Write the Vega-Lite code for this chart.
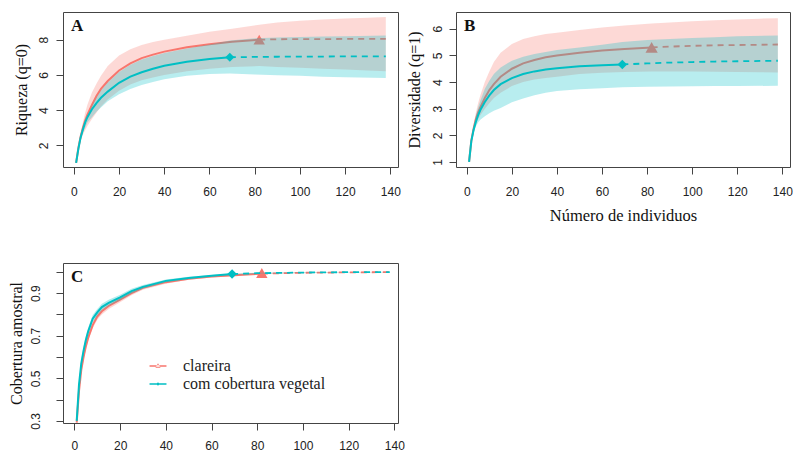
{
  "$schema": "https://vega.github.io/schema/vega-lite/v6.json",
  "padding": {"left": 7, "top": 11, "right": 0, "bottom": 0},
  "background": "white",
  "datasets": {
    "curves": [
      {"p":"A","g":"clareira","m":"rar","x":1,"y":1,"lo":1,"hi":1},
      {"p":"A","g":"clareira","m":"rar","x":2,"y":1.85,"lo":1.8,"hi":1.9},
      {"p":"A","g":"clareira","m":"rar","x":3,"y":2.5,"lo":2.25,"hi":2.65},
      {"p":"A","g":"clareira","m":"rar","x":4,"y":3.0,"lo":2.6,"hi":3.3},
      {"p":"A","g":"clareira","m":"rar","x":5,"y":3.4,"lo":2.85,"hi":3.85},
      {"p":"A","g":"clareira","m":"rar","x":6,"y":3.75,"lo":3.1,"hi":4.3},
      {"p":"A","g":"clareira","m":"rar","x":8,"y":4.3,"lo":3.5,"hi":5.0},
      {"p":"A","g":"clareira","m":"rar","x":10,"y":4.8,"lo":3.85,"hi":5.5},
      {"p":"A","g":"clareira","m":"rar","x":12,"y":5.2,"lo":4.2,"hi":5.95},
      {"p":"A","g":"clareira","m":"rar","x":15,"y":5.65,"lo":4.6,"hi":6.5},
      {"p":"A","g":"clareira","m":"rar","x":20,"y":6.25,"lo":5.1,"hi":7.1},
      {"p":"A","g":"clareira","m":"rar","x":25,"y":6.65,"lo":5.45,"hi":7.45},
      {"p":"A","g":"clareira","m":"rar","x":30,"y":6.95,"lo":5.7,"hi":7.7},
      {"p":"A","g":"clareira","m":"rar","x":35,"y":7.15,"lo":5.85,"hi":7.87},
      {"p":"A","g":"clareira","m":"rar","x":40,"y":7.32,"lo":6.0,"hi":8.0},
      {"p":"A","g":"clareira","m":"rar","x":50,"y":7.57,"lo":6.2,"hi":8.22},
      {"p":"A","g":"clareira","m":"rar","x":60,"y":7.74,"lo":6.35,"hi":8.45},
      {"p":"A","g":"clareira","m":"rar","x":70,"y":7.88,"lo":6.45,"hi":8.62},
      {"p":"A","g":"clareira","m":"rar","x":82,"y":8.0,"lo":6.5,"hi":8.85},
      {"p":"A","g":"clareira","m":"ext","x":82,"y":8.0,"lo":6.5,"hi":8.85},
      {"p":"A","g":"clareira","m":"ext","x":90,"y":8.02,"lo":6.45,"hi":8.97},
      {"p":"A","g":"clareira","m":"ext","x":100,"y":8.03,"lo":6.4,"hi":9.07},
      {"p":"A","g":"clareira","m":"ext","x":110,"y":8.03,"lo":6.35,"hi":9.15},
      {"p":"A","g":"clareira","m":"ext","x":120,"y":8.04,"lo":6.3,"hi":9.2},
      {"p":"A","g":"clareira","m":"ext","x":130,"y":8.04,"lo":6.25,"hi":9.25},
      {"p":"A","g":"clareira","m":"ext","x":138,"y":8.04,"lo":6.2,"hi":9.28},
      {"p":"A","g":"com cobertura vegetal","m":"rar","x":1,"y":1,"lo":1,"hi":1},
      {"p":"A","g":"com cobertura vegetal","m":"rar","x":2,"y":1.8,"lo":1.75,"hi":1.83},
      {"p":"A","g":"com cobertura vegetal","m":"rar","x":3,"y":2.45,"lo":2.3,"hi":2.48},
      {"p":"A","g":"com cobertura vegetal","m":"rar","x":4,"y":2.9,"lo":2.7,"hi":2.97},
      {"p":"A","g":"com cobertura vegetal","m":"rar","x":5,"y":3.3,"lo":3.0,"hi":3.36},
      {"p":"A","g":"com cobertura vegetal","m":"rar","x":6,"y":3.6,"lo":3.3,"hi":3.7},
      {"p":"A","g":"com cobertura vegetal","m":"rar","x":8,"y":4.05,"lo":3.6,"hi":4.25},
      {"p":"A","g":"com cobertura vegetal","m":"rar","x":10,"y":4.4,"lo":3.9,"hi":4.72},
      {"p":"A","g":"com cobertura vegetal","m":"rar","x":12,"y":4.7,"lo":4.15,"hi":5.12},
      {"p":"A","g":"com cobertura vegetal","m":"rar","x":15,"y":5.05,"lo":4.5,"hi":5.57},
      {"p":"A","g":"com cobertura vegetal","m":"rar","x":20,"y":5.55,"lo":4.9,"hi":6.17},
      {"p":"A","g":"com cobertura vegetal","m":"rar","x":25,"y":5.9,"lo":5.2,"hi":6.57},
      {"p":"A","g":"com cobertura vegetal","m":"rar","x":30,"y":6.15,"lo":5.42,"hi":6.87},
      {"p":"A","g":"com cobertura vegetal","m":"rar","x":35,"y":6.35,"lo":5.6,"hi":7.07},
      {"p":"A","g":"com cobertura vegetal","m":"rar","x":40,"y":6.52,"lo":5.75,"hi":7.24},
      {"p":"A","g":"com cobertura vegetal","m":"rar","x":50,"y":6.75,"lo":5.95,"hi":7.5},
      {"p":"A","g":"com cobertura vegetal","m":"rar","x":60,"y":6.9,"lo":6.05,"hi":7.72},
      {"p":"A","g":"com cobertura vegetal","m":"rar","x":69,"y":7.0,"lo":6.08,"hi":7.95},
      {"p":"A","g":"com cobertura vegetal","m":"ext","x":69,"y":7.0,"lo":6.08,"hi":7.95},
      {"p":"A","g":"com cobertura vegetal","m":"ext","x":80,"y":7.02,"lo":6.02,"hi":8.08},
      {"p":"A","g":"com cobertura vegetal","m":"ext","x":90,"y":7.03,"lo":5.98,"hi":8.12},
      {"p":"A","g":"com cobertura vegetal","m":"ext","x":100,"y":7.04,"lo":5.95,"hi":8.15},
      {"p":"A","g":"com cobertura vegetal","m":"ext","x":110,"y":7.04,"lo":5.9,"hi":8.18},
      {"p":"A","g":"com cobertura vegetal","m":"ext","x":120,"y":7.05,"lo":5.87,"hi":8.2},
      {"p":"A","g":"com cobertura vegetal","m":"ext","x":138,"y":7.05,"lo":5.82,"hi":8.23},
      {"p":"B","g":"clareira","m":"rar","x":1,"y":1,"lo":1,"hi":1},
      {"p":"B","g":"clareira","m":"rar","x":2,"y":1.8,"lo":1.75,"hi":1.85},
      {"p":"B","g":"clareira","m":"rar","x":3,"y":2.25,"lo":2.1,"hi":2.4},
      {"p":"B","g":"clareira","m":"rar","x":4,"y":2.6,"lo":2.4,"hi":2.85},
      {"p":"B","g":"clareira","m":"rar","x":5,"y":2.85,"lo":2.6,"hi":3.2},
      {"p":"B","g":"clareira","m":"rar","x":6,"y":3.05,"lo":2.75,"hi":3.5},
      {"p":"B","g":"clareira","m":"rar","x":8,"y":3.4,"lo":3.0,"hi":4.0},
      {"p":"B","g":"clareira","m":"rar","x":10,"y":3.7,"lo":3.2,"hi":4.4},
      {"p":"B","g":"clareira","m":"rar","x":12,"y":3.92,"lo":3.4,"hi":4.75},
      {"p":"B","g":"clareira","m":"rar","x":15,"y":4.2,"lo":3.6,"hi":5.1},
      {"p":"B","g":"clareira","m":"rar","x":20,"y":4.5,"lo":3.85,"hi":5.43},
      {"p":"B","g":"clareira","m":"rar","x":25,"y":4.7,"lo":4.0,"hi":5.62},
      {"p":"B","g":"clareira","m":"rar","x":30,"y":4.83,"lo":4.1,"hi":5.72},
      {"p":"B","g":"clareira","m":"rar","x":35,"y":4.93,"lo":4.15,"hi":5.8},
      {"p":"B","g":"clareira","m":"rar","x":40,"y":5.0,"lo":4.2,"hi":5.85},
      {"p":"B","g":"clareira","m":"rar","x":50,"y":5.1,"lo":4.3,"hi":5.95},
      {"p":"B","g":"clareira","m":"rar","x":60,"y":5.18,"lo":4.35,"hi":6.05},
      {"p":"B","g":"clareira","m":"rar","x":70,"y":5.24,"lo":4.38,"hi":6.12},
      {"p":"B","g":"clareira","m":"rar","x":82,"y":5.3,"lo":4.4,"hi":6.2},
      {"p":"B","g":"clareira","m":"ext","x":82,"y":5.3,"lo":4.4,"hi":6.2},
      {"p":"B","g":"clareira","m":"ext","x":90,"y":5.33,"lo":4.4,"hi":6.24},
      {"p":"B","g":"clareira","m":"ext","x":100,"y":5.36,"lo":4.4,"hi":6.28},
      {"p":"B","g":"clareira","m":"ext","x":110,"y":5.38,"lo":4.39,"hi":6.32},
      {"p":"B","g":"clareira","m":"ext","x":120,"y":5.39,"lo":4.38,"hi":6.35},
      {"p":"B","g":"clareira","m":"ext","x":130,"y":5.4,"lo":4.37,"hi":6.38},
      {"p":"B","g":"clareira","m":"ext","x":138,"y":5.41,"lo":4.36,"hi":6.4},
      {"p":"B","g":"com cobertura vegetal","m":"rar","x":1,"y":1,"lo":1,"hi":1},
      {"p":"B","g":"com cobertura vegetal","m":"rar","x":2,"y":1.78,"lo":1.72,"hi":1.85},
      {"p":"B","g":"com cobertura vegetal","m":"rar","x":3,"y":2.2,"lo":2.08,"hi":2.35},
      {"p":"B","g":"com cobertura vegetal","m":"rar","x":4,"y":2.5,"lo":2.33,"hi":2.75},
      {"p":"B","g":"com cobertura vegetal","m":"rar","x":5,"y":2.75,"lo":2.48,"hi":3.05},
      {"p":"B","g":"com cobertura vegetal","m":"rar","x":6,"y":2.95,"lo":2.58,"hi":3.3},
      {"p":"B","g":"com cobertura vegetal","m":"rar","x":8,"y":3.25,"lo":2.72,"hi":3.75},
      {"p":"B","g":"com cobertura vegetal","m":"rar","x":10,"y":3.5,"lo":2.83,"hi":4.05},
      {"p":"B","g":"com cobertura vegetal","m":"rar","x":12,"y":3.7,"lo":2.92,"hi":4.3},
      {"p":"B","g":"com cobertura vegetal","m":"rar","x":15,"y":3.92,"lo":3.03,"hi":4.55},
      {"p":"B","g":"com cobertura vegetal","m":"rar","x":20,"y":4.15,"lo":3.24,"hi":4.8},
      {"p":"B","g":"com cobertura vegetal","m":"rar","x":25,"y":4.3,"lo":3.38,"hi":4.95},
      {"p":"B","g":"com cobertura vegetal","m":"rar","x":30,"y":4.4,"lo":3.5,"hi":5.05},
      {"p":"B","g":"com cobertura vegetal","m":"rar","x":35,"y":4.47,"lo":3.6,"hi":5.13},
      {"p":"B","g":"com cobertura vegetal","m":"rar","x":40,"y":4.52,"lo":3.66,"hi":5.2},
      {"p":"B","g":"com cobertura vegetal","m":"rar","x":50,"y":4.59,"lo":3.73,"hi":5.3},
      {"p":"B","g":"com cobertura vegetal","m":"rar","x":60,"y":4.63,"lo":3.77,"hi":5.4},
      {"p":"B","g":"com cobertura vegetal","m":"rar","x":69,"y":4.66,"lo":3.8,"hi":5.5},
      {"p":"B","g":"com cobertura vegetal","m":"ext","x":69,"y":4.66,"lo":3.8,"hi":5.5},
      {"p":"B","g":"com cobertura vegetal","m":"ext","x":80,"y":4.7,"lo":3.82,"hi":5.58},
      {"p":"B","g":"com cobertura vegetal","m":"ext","x":90,"y":4.73,"lo":3.83,"hi":5.62},
      {"p":"B","g":"com cobertura vegetal","m":"ext","x":100,"y":4.75,"lo":3.84,"hi":5.65},
      {"p":"B","g":"com cobertura vegetal","m":"ext","x":110,"y":4.77,"lo":3.85,"hi":5.68},
      {"p":"B","g":"com cobertura vegetal","m":"ext","x":120,"y":4.78,"lo":3.85,"hi":5.72},
      {"p":"B","g":"com cobertura vegetal","m":"ext","x":138,"y":4.8,"lo":3.86,"hi":5.75},
      {"p":"C","g":"clareira","m":"rar","x":1,"y":0.292,"lo":0.287,"hi":0.297},
      {"p":"C","g":"clareira","m":"rar","x":2,"y":0.44,"lo":0.425,"hi":0.455},
      {"p":"C","g":"clareira","m":"rar","x":3,"y":0.54,"lo":0.525,"hi":0.555},
      {"p":"C","g":"clareira","m":"rar","x":4,"y":0.6,"lo":0.585,"hi":0.615},
      {"p":"C","g":"clareira","m":"rar","x":5,"y":0.65,"lo":0.635,"hi":0.665},
      {"p":"C","g":"clareira","m":"rar","x":6,"y":0.69,"lo":0.675,"hi":0.705},
      {"p":"C","g":"clareira","m":"rar","x":8,"y":0.75,"lo":0.735,"hi":0.765},
      {"p":"C","g":"clareira","m":"rar","x":10,"y":0.79,"lo":0.775,"hi":0.805},
      {"p":"C","g":"clareira","m":"rar","x":12,"y":0.815,"lo":0.8,"hi":0.83},
      {"p":"C","g":"clareira","m":"rar","x":15,"y":0.84,"lo":0.826,"hi":0.854},
      {"p":"C","g":"clareira","m":"rar","x":20,"y":0.87,"lo":0.858,"hi":0.882},
      {"p":"C","g":"clareira","m":"rar","x":25,"y":0.9,"lo":0.89,"hi":0.91},
      {"p":"C","g":"clareira","m":"rar","x":30,"y":0.925,"lo":0.916,"hi":0.934},
      {"p":"C","g":"clareira","m":"rar","x":40,"y":0.952,"lo":0.945,"hi":0.959},
      {"p":"C","g":"clareira","m":"rar","x":50,"y":0.968,"lo":0.963,"hi":0.973},
      {"p":"C","g":"clareira","m":"rar","x":60,"y":0.978,"lo":0.974,"hi":0.982},
      {"p":"C","g":"clareira","m":"rar","x":70,"y":0.985,"lo":0.982,"hi":0.988},
      {"p":"C","g":"clareira","m":"rar","x":82,"y":0.992,"lo":0.989,"hi":0.995},
      {"p":"C","g":"clareira","m":"ext","x":82,"y":0.992,"lo":0.989,"hi":0.995},
      {"p":"C","g":"clareira","m":"ext","x":100,"y":0.996,"lo":0.994,"hi":0.998},
      {"p":"C","g":"clareira","m":"ext","x":120,"y":0.998,"lo":0.997,"hi":0.999},
      {"p":"C","g":"clareira","m":"ext","x":138,"y":0.999,"lo":0.998,"hi":1.0},
      {"p":"C","g":"com cobertura vegetal","m":"rar","x":1,"y":0.3,"lo":0.295,"hi":0.305},
      {"p":"C","g":"com cobertura vegetal","m":"rar","x":2,"y":0.47,"lo":0.452,"hi":0.488},
      {"p":"C","g":"com cobertura vegetal","m":"rar","x":3,"y":0.57,"lo":0.552,"hi":0.588},
      {"p":"C","g":"com cobertura vegetal","m":"rar","x":4,"y":0.63,"lo":0.612,"hi":0.648},
      {"p":"C","g":"com cobertura vegetal","m":"rar","x":5,"y":0.68,"lo":0.662,"hi":0.698},
      {"p":"C","g":"com cobertura vegetal","m":"rar","x":6,"y":0.72,"lo":0.702,"hi":0.738},
      {"p":"C","g":"com cobertura vegetal","m":"rar","x":8,"y":0.78,"lo":0.762,"hi":0.798},
      {"p":"C","g":"com cobertura vegetal","m":"rar","x":10,"y":0.81,"lo":0.794,"hi":0.826},
      {"p":"C","g":"com cobertura vegetal","m":"rar","x":12,"y":0.835,"lo":0.82,"hi":0.85},
      {"p":"C","g":"com cobertura vegetal","m":"rar","x":15,"y":0.855,"lo":0.841,"hi":0.869},
      {"p":"C","g":"com cobertura vegetal","m":"rar","x":20,"y":0.88,"lo":0.867,"hi":0.893},
      {"p":"C","g":"com cobertura vegetal","m":"rar","x":25,"y":0.91,"lo":0.899,"hi":0.921},
      {"p":"C","g":"com cobertura vegetal","m":"rar","x":30,"y":0.93,"lo":0.921,"hi":0.939},
      {"p":"C","g":"com cobertura vegetal","m":"rar","x":40,"y":0.958,"lo":0.951,"hi":0.965},
      {"p":"C","g":"com cobertura vegetal","m":"rar","x":50,"y":0.972,"lo":0.967,"hi":0.977},
      {"p":"C","g":"com cobertura vegetal","m":"rar","x":60,"y":0.982,"lo":0.978,"hi":0.986},
      {"p":"C","g":"com cobertura vegetal","m":"rar","x":69,"y":0.99,"lo":0.987,"hi":0.993},
      {"p":"C","g":"com cobertura vegetal","m":"ext","x":69,"y":0.99,"lo":0.987,"hi":0.993},
      {"p":"C","g":"com cobertura vegetal","m":"ext","x":80,"y":0.994,"lo":0.992,"hi":0.996},
      {"p":"C","g":"com cobertura vegetal","m":"ext","x":100,"y":0.997,"lo":0.996,"hi":0.998},
      {"p":"C","g":"com cobertura vegetal","m":"ext","x":120,"y":0.999,"lo":0.998,"hi":1.0},
      {"p":"C","g":"com cobertura vegetal","m":"ext","x":138,"y":0.999,"lo":0.998,"hi":1.0}
    ],
    "obs": [
      {"p":"A","g":"clareira","x":82,"y":8.0},
      {"p":"A","g":"com cobertura vegetal","x":69,"y":7.0},
      {"p":"B","g":"clareira","x":82,"y":5.3},
      {"p":"B","g":"com cobertura vegetal","x":69,"y":4.66},
      {"p":"C","g":"clareira","x":82,"y":0.995},
      {"p":"C","g":"com cobertura vegetal","x":69,"y":0.99}
    ]
  },
  "concat": [
    {
      "width": 335, "height": 155,
      "title": {"text": "A"},
      "encoding": {
        "x": {"field": "x", "type": "quantitative", "scale": {"domain": [-4.8, 143.4], "nice": false, "zero": false},
              "axis": {"values": [0,20,40,60,80,100,120,140], "title": null, "labelPadding": 12}},
        "y": {"field": "y", "type": "quantitative", "scale": {"domain": [0.77, 9.57], "nice": false, "zero": false},
              "axis": {"values": [2,4,6,8], "title": "Riqueza (q=0)", "labelAngle": -90, "labelAlign": "center", "labelBaseline": "alphabetic", "labelPadding": 9, "titlePadding": 8}}
      },
      "layer": [
        {"data": {"name": "curves"}, "transform": [{"filter": "datum.p=='A' && datum.g=='clareira'"}],
         "mark": {"type": "area", "color": "#F8766D", "opacity": 0.28, "clip": true},
         "encoding": {"y": {"field": "lo", "type": "quantitative", "scale": {"domain": [0.77, 9.57], "nice": false, "zero": false},
              "axis": {"values": [2,4,6,8], "title": "Riqueza (q=0)", "labelAngle": -90, "labelAlign": "center", "labelBaseline": "alphabetic", "labelPadding": 9, "titlePadding": 8}}, "y2": {"field": "hi"}}},
        {"data": {"name": "curves"}, "transform": [{"filter": "datum.p=='A' && datum.g=='clareira' && datum.m=='rar'"}],
         "mark": {"type": "line", "color": "#F8766D", "strokeWidth": 2, "clip": true}},
        {"data": {"name": "curves"}, "transform": [{"filter": "datum.p=='A' && datum.g=='clareira' && datum.m=='ext'"}],
         "mark": {"type": "line", "color": "#F8766D", "strokeWidth": 1.8, "strokeDash": [6, 5], "clip": true}},
        {"data": {"name": "obs"}, "transform": [{"filter": "datum.p=='A' && datum.g=='clareira'"}],
         "mark": {"type": "point", "shape": "triangle-up", "filled": true, "size": 130, "color": "#F8766D", "opacity": 1}},
        {"data": {"name": "curves"}, "transform": [{"filter": "datum.p=='A' && datum.g=='com cobertura vegetal'"}],
         "mark": {"type": "area", "color": "#00BFC4", "opacity": 0.28, "clip": true},
         "encoding": {"y": {"field": "lo", "type": "quantitative", "scale": {"domain": [0.77, 9.57], "nice": false, "zero": false},
              "axis": {"values": [2,4,6,8], "title": "Riqueza (q=0)", "labelAngle": -90, "labelAlign": "center", "labelBaseline": "alphabetic", "labelPadding": 9, "titlePadding": 8}}, "y2": {"field": "hi"}}},
        {"data": {"name": "curves"}, "transform": [{"filter": "datum.p=='A' && datum.g=='com cobertura vegetal' && datum.m=='rar'"}],
         "mark": {"type": "line", "color": "#00BFC4", "strokeWidth": 2, "clip": true}},
        {"data": {"name": "curves"}, "transform": [{"filter": "datum.p=='A' && datum.g=='com cobertura vegetal' && datum.m=='ext'"}],
         "mark": {"type": "line", "color": "#00BFC4", "strokeWidth": 1.8, "strokeDash": [6, 5], "clip": true}},
        {"data": {"name": "obs"}, "transform": [{"filter": "datum.p=='A' && datum.g=='com cobertura vegetal'"}],
         "mark": {"type": "point", "shape": "diamond", "filled": true, "size": 80, "color": "#00BFC4", "opacity": 1}}
      ]
    },
    {
      "width": 334, "height": 155,
      "title": {"text": "B"},
      "encoding": {
        "x": {"field": "x", "type": "quantitative", "scale": {"domain": [-4.8, 143.4], "nice": false, "zero": false},
              "axis": {"values": [0,20,40,60,80,100,120,140], "title": "Número de individuos", "labelPadding": 12, "titlePadding": 10, "titleFontSize": 16.5}},
        "y": {"field": "y", "type": "quantitative", "scale": {"domain": [0.81, 6.63], "nice": false, "zero": false},
              "axis": {"values": [1,2,3,4,5,6], "title": "Diversidade (q=1)", "labelAngle": -90, "labelAlign": "center", "labelBaseline": "alphabetic", "labelPadding": 8, "titlePadding": 9}}
      },
      "layer": [
        {"data": {"name": "curves"}, "transform": [{"filter": "datum.p=='B' && datum.g=='clareira'"}],
         "mark": {"type": "area", "color": "#F8766D", "opacity": 0.28, "clip": true},
         "encoding": {"y": {"field": "lo", "type": "quantitative", "scale": {"domain": [0.81, 6.63], "nice": false, "zero": false},
              "axis": {"values": [1,2,3,4,5,6], "title": "Diversidade (q=1)", "labelAngle": -90, "labelAlign": "center", "labelBaseline": "alphabetic", "labelPadding": 8, "titlePadding": 9}}, "y2": {"field": "hi"}}},
        {"data": {"name": "curves"}, "transform": [{"filter": "datum.p=='B' && datum.g=='clareira' && datum.m=='rar'"}],
         "mark": {"type": "line", "color": "#F8766D", "strokeWidth": 2, "clip": true}},
        {"data": {"name": "curves"}, "transform": [{"filter": "datum.p=='B' && datum.g=='clareira' && datum.m=='ext'"}],
         "mark": {"type": "line", "color": "#F8766D", "strokeWidth": 1.8, "strokeDash": [6, 5], "clip": true}},
        {"data": {"name": "obs"}, "transform": [{"filter": "datum.p=='B' && datum.g=='clareira'"}],
         "mark": {"type": "point", "shape": "triangle-up", "filled": true, "size": 150, "color": "#F8766D", "opacity": 1}},
        {"data": {"name": "curves"}, "transform": [{"filter": "datum.p=='B' && datum.g=='com cobertura vegetal'"}],
         "mark": {"type": "area", "color": "#00BFC4", "opacity": 0.28, "clip": true},
         "encoding": {"y": {"field": "lo", "type": "quantitative", "scale": {"domain": [0.81, 6.63], "nice": false, "zero": false},
              "axis": {"values": [1,2,3,4,5,6], "title": "Diversidade (q=1)", "labelAngle": -90, "labelAlign": "center", "labelBaseline": "alphabetic", "labelPadding": 8, "titlePadding": 9}}, "y2": {"field": "hi"}}},
        {"data": {"name": "curves"}, "transform": [{"filter": "datum.p=='B' && datum.g=='com cobertura vegetal' && datum.m=='rar'"}],
         "mark": {"type": "line", "color": "#00BFC4", "strokeWidth": 2, "clip": true}},
        {"data": {"name": "curves"}, "transform": [{"filter": "datum.p=='B' && datum.g=='com cobertura vegetal' && datum.m=='ext'"}],
         "mark": {"type": "line", "color": "#00BFC4", "strokeWidth": 1.8, "strokeDash": [6, 5], "clip": true}},
        {"data": {"name": "obs"}, "transform": [{"filter": "datum.p=='B' && datum.g=='com cobertura vegetal'"}],
         "mark": {"type": "point", "shape": "diamond", "filled": true, "size": 90, "color": "#00BFC4", "opacity": 1}}
      ]
    },
    {
      "width": 335, "height": 160,
      "title": {"text": "C"},
      "encoding": {
        "x": {"field": "x", "type": "quantitative", "scale": {"domain": [-5, 141.6], "nice": false, "zero": false},
              "axis": {"values": [0,20,40,60,80,100,120,140], "title": null, "labelPadding": 10}},
        "y": {"field": "y", "type": "quantitative", "scale": {"domain": [0.29, 1.042], "nice": false, "zero": false},
              "axis": {"values": [0.3,0.4,0.5,0.6,0.7,0.8,0.9,1.0], "format": ".1f", "labelExpr": "round(datum.value*10) % 2 == 1 ? datum.label : ''", "title": "Cobertura amostral", "labelAngle": -90, "labelAlign": "center", "labelBaseline": "alphabetic", "labelPadding": 17, "titlePadding": 5}}
      },
      "layer": [
        {"data": {"name": "curves"}, "transform": [{"filter": "datum.p=='C' && datum.g=='clareira'"}],
         "mark": {"type": "area", "color": "#F8766D", "opacity": 0.3, "clip": true},
         "encoding": {"y": {"field": "lo", "type": "quantitative", "scale": {"domain": [0.29, 1.042], "nice": false, "zero": false},
              "axis": {"values": [0.3,0.4,0.5,0.6,0.7,0.8,0.9,1.0], "format": ".1f", "labelExpr": "round(datum.value*10) % 2 == 1 ? datum.label : ''", "title": "Cobertura amostral", "labelAngle": -90, "labelAlign": "center", "labelBaseline": "alphabetic", "labelPadding": 17, "titlePadding": 5}}, "y2": {"field": "hi"}}},
        {"data": {"name": "curves"}, "transform": [{"filter": "datum.p=='C' && datum.g=='clareira' && datum.m=='rar'"}],
         "mark": {"type": "line", "color": "#F8766D", "strokeWidth": 2, "clip": true}},
        {"data": {"name": "curves"}, "transform": [{"filter": "datum.p=='C' && datum.g=='clareira' && datum.m=='ext'"}],
         "mark": {"type": "line", "color": "#F8766D", "strokeWidth": 1.8, "strokeDash": [6, 5], "clip": true}},
        {"data": {"name": "obs"}, "transform": [{"filter": "datum.p=='C' && datum.g=='clareira'"}],
         "mark": {"type": "point", "shape": "triangle-up", "filled": true, "size": 130, "color": "#F8766D", "opacity": 1}},
        {"data": {"name": "curves"}, "transform": [{"filter": "datum.p=='C' && datum.g=='com cobertura vegetal'"}],
         "mark": {"type": "area", "color": "#00BFC4", "opacity": 0.3, "clip": true},
         "encoding": {"y": {"field": "lo", "type": "quantitative", "scale": {"domain": [0.29, 1.042], "nice": false, "zero": false},
              "axis": {"values": [0.3,0.4,0.5,0.6,0.7,0.8,0.9,1.0], "format": ".1f", "labelExpr": "round(datum.value*10) % 2 == 1 ? datum.label : ''", "title": "Cobertura amostral", "labelAngle": -90, "labelAlign": "center", "labelBaseline": "alphabetic", "labelPadding": 17, "titlePadding": 5}}, "y2": {"field": "hi"}}},
        {"data": {"name": "curves"}, "transform": [{"filter": "datum.p=='C' && datum.g=='com cobertura vegetal' && datum.m=='rar'"}],
         "mark": {"type": "line", "color": "#00BFC4", "strokeWidth": 2, "clip": true}},
        {"data": {"name": "curves"}, "transform": [{"filter": "datum.p=='C' && datum.g=='com cobertura vegetal' && datum.m=='ext'"}],
         "mark": {"type": "line", "color": "#00BFC4", "strokeWidth": 1.8, "strokeDash": [6, 5], "clip": true}},
        {"data": {"name": "obs"}, "transform": [{"filter": "datum.p=='C' && datum.g=='com cobertura vegetal'"}],
         "mark": {"type": "point", "shape": "diamond", "filled": true, "size": 90, "color": "#00BFC4", "opacity": 1}},
        {"data": {"name": "obs"}, "transform": [{"filter": "datum.p=='C'"}],
         "mark": {"type": "point", "filled": true, "size": 0, "opacity": 1},
         "encoding": {
           "color": {"field": "g", "type": "nominal",
             "scale": {"domain": ["clareira", "com cobertura vegetal"], "range": ["#F8766D", "#00BFC4"]},
             "legend": {"orient": "none", "legendX": 87, "legendY": 346, "title": null, "labelFont": "Liberation Serif", "labelFontSize": 16}},
           "shape": {"field": "g", "type": "nominal",
             "scale": {"domain": ["clareira", "com cobertura vegetal"], "range": ["M-1.06,-0.09H1.06V0.09H-1.06ZM-0.32,0.22L0.32,0.22L0,-0.34Z", "M-1.06,-0.09H1.06V0.09H-1.06ZM0,-0.22L0.22,0L0,0.22L-0.22,0Z"]},
             "legend": {"orient": "none", "legendX": 87, "legendY": 346, "title": null, "labelFont": "Liberation Serif", "labelFontSize": 16}}
         }}
      ]
    }
  ],
  "columns": 2,
  "spacing": {"row": 96, "column": 58},
  "bounds": "flush",
  "config": {
    "view": {"stroke": "#444", "strokeWidth": 1},
    "axis": {"domain": false, "grid": false, "tickColor": "#444", "tickSize": 7, "tickWidth": 1,
             "labelFont": "Liberation Sans", "labelFontSize": 12, "labelColor": "#222",
             "titleFont": "Liberation Serif", "titleFontSize": 16, "titleFontWeight": "normal", "titleColor": "#111"},
    "legend": {"labelFont": "Liberation Serif", "labelFontSize": 16, "labelColor": "#222", "symbolSize": 256, "symbolStrokeWidth": 0, "labelOffset": 17, "rowPadding": 2, "padding": 0},
    "title": {"font": "Liberation Serif", "fontSize": 17, "fontWeight": "bold", "anchor": "start", "frame": "group", "offset": -23, "baseline": "alphabetic", "dx": 8, "color": "#111"}
  }
}
